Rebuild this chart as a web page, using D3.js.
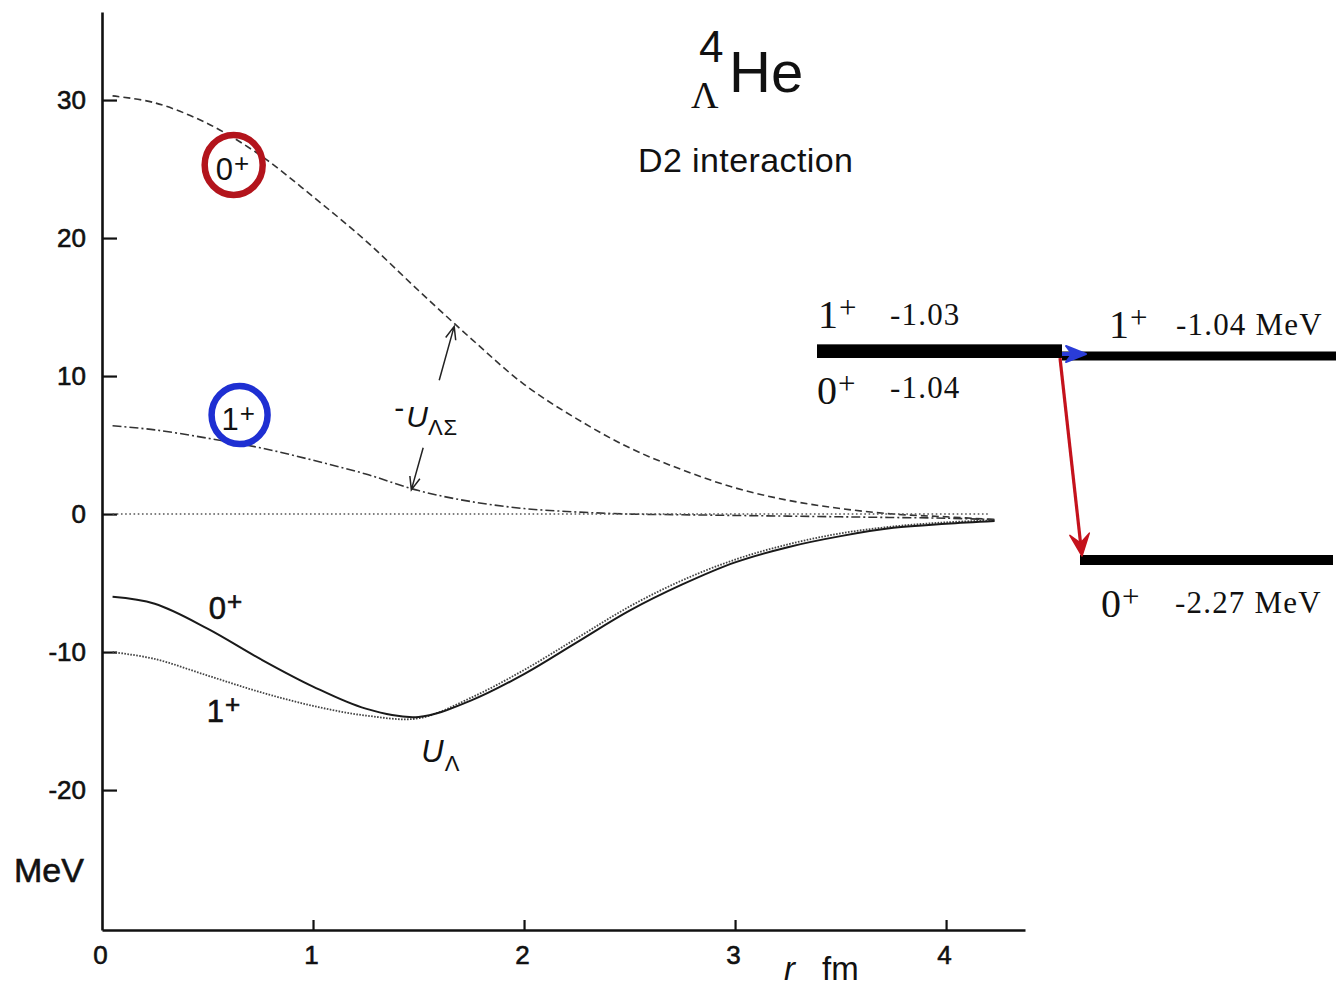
<!DOCTYPE html>
<html>
<head>
<meta charset="utf-8">
<title>4ΛHe D2 interaction potentials</title>
<script src="https://cdn.jsdelivr.net/npm/d3@7"></script>
<style>
  html, body { margin: 0; padding: 0; background: #ffffff; }
  svg { display: block; }
  .sans { font-family: "Liberation Sans", Arial, Helvetica, sans-serif; }
  .serif { font-family: "Liberation Serif", "Times New Roman", serif; }
  .heavy { stroke: #111; stroke-width: 0.6px; paint-order: stroke; }
</style>
</head>
<body>
<svg id="chart" width="1337" height="989"></svg>
<script>
// ---- radial grid (fm) shared by all potential curves ----
const rGrid = [0.05, 0.25, 0.5, 0.75, 1.0, 1.25, 1.5, 1.75, 2.0, 2.25, 2.5, 2.75, 3.0, 3.25, 3.5, 3.75, 4.0, 4.23];

// -U_ΛΣ coupling potential, 0+ state (MeV)
const couplingJ0 = [30.3, 29.8, 28.3, 26.0, 23.0, 19.8, 16.2, 12.7, 9.4, 6.9, 4.8, 3.2, 1.9, 1.0, 0.4, 0.0, -0.2, -0.4];
// -U_ΛΣ coupling potential, 1+ state (MeV)
const couplingJ1 = [6.4, 6.1, 5.5, 4.8, 3.9, 2.9, 1.7, 0.9, 0.4, 0.15, 0.0, -0.05, -0.1, -0.15, -0.2, -0.25, -0.3, -0.4];
// U_Λ diagonal potential, 0+ state (MeV)
const lambdaJ0 = [-6.0, -6.5, -8.3, -10.5, -12.5, -14.1, -14.7, -13.5, -11.6, -9.3, -7.0, -5.1, -3.5, -2.4, -1.6, -1.0, -0.7, -0.5];
// U_Λ diagonal potential, 1+ state (MeV)
const lambdaJ1 = [-10.0, -10.5, -11.7, -12.9, -13.9, -14.6, -14.8, -13.3, -11.3, -9.0, -6.7, -4.8, -3.3, -2.2, -1.4, -0.9, -0.6, -0.45];
// zero reference
const zeroRange = [0.05, 4.2];

// ---- axis ticks ----
const yTicks = [30, 20, 10, 0, -10, -20];
const xTicks = [0, 1, 2, 3, 4];

// ---- level scheme (MeV) ----
const levelsLeft = [{ J: "1", E: -1.03 }, { J: "0", E: -1.04 }];
const levelsRight = [{ J: "1", E: -1.04 }, { J: "0", E: -2.27 }];

const svg = d3.select("#chart");

// scales for the potential plot
const x = d3.scaleLinear().domain([0, 4.374]).range([102, 1025]);
const y = d3.scaleLinear().domain([-30.14, 36.38]).range([930, 12]);

// ---------- axes ----------
const plainInt = d => String(d);
const yAxis = d3.axisLeft(y).tickValues(yTicks).tickSize(-15).tickSizeOuter(0).tickPadding(16)
  .tickFormat(plainInt);
const gy = svg.append("g").attr("transform", `translate(${x(0)},0)`).call(yAxis);
gy.attr("font-size", null).attr("font-family", null);
gy.select(".domain").attr("stroke", "#111").attr("stroke-width", 2.6);
gy.selectAll(".tick line").attr("stroke", "#111").attr("stroke-width", 2.2);
gy.selectAll(".tick text").attr("class", "sans heavy").attr("font-size", 26).attr("fill", "#111");

const xAxis = d3.axisBottom(x).tickValues(xTicks).tickSize(-10).tickSizeOuter(0).tickPadding(16)
  .tickFormat(plainInt);
const gx = svg.append("g").attr("transform", `translate(0,${y.range()[0]})`).call(xAxis);
gx.attr("font-size", null).attr("font-family", null);
gx.select(".domain").attr("stroke", "#111").attr("stroke-width", 2.6);
gx.selectAll(".tick line").attr("stroke", "#111").attr("stroke-width", 2.2);
gx.selectAll(".tick").filter(d => d === 0).select("line").remove();
gx.selectAll(".tick text").attr("class", "sans heavy").attr("font-size", 26).attr("fill", "#111")
  .attr("dx", -2);

// axis titles
svg.append("text").attr("class", "sans heavy").attr("x", 14).attr("y", 882)
  .attr("font-size", 34).attr("fill", "#111").text("MeV");
const xt = svg.append("text").attr("class", "sans").attr("x", 784).attr("y", 980)
  .attr("font-size", 33).attr("fill", "#111");
xt.append("tspan").attr("font-style", "italic").text("r");
xt.append("tspan").attr("dx", 27).text("fm");

// ---------- potential curves ----------
const line = d3.line()
  .x(d => x(d[0]))
  .y(d => y(d[1]))
  .curve(d3.curveCatmullRom.alpha(0.5));

const pairs = vals => rGrid.map((r, i) => [r, vals[i]]);

const curves = [
  { vals: pairs(couplingJ0), dash: "7,4", width: 1.6, color: "#333" },
  { vals: pairs(couplingJ1), dash: "9,3,2,3", width: 1.6, color: "#333" },
  { vals: zeroRange.map(r => [r, 0]), dash: "1.6,2.6", width: 1.4, color: "#555" },
  { vals: pairs(lambdaJ1), dash: "1.6,1.4", width: 1.8, color: "#444" },
  { vals: pairs(lambdaJ0), dash: null, width: 2.0, color: "#1a1a1a" }
];

svg.append("g").selectAll("path").data(curves).join("path")
  .attr("d", d => line(d.vals))
  .attr("fill", "none")
  .attr("stroke", d => d.color)
  .attr("stroke-width", d => d.width)
  .attr("stroke-dasharray", d => d.dash);

// ---------- labels on the curves ----------
const curveLabels = [
  { r: 0.506, v: -7.6, main: "0", sup: "+" },
  { r: 0.496, v: -15.1, main: "1", sup: "+" }
];
curveLabels.forEach(l => {
  const t = svg.append("text").attr("class", "sans heavy")
    .attr("x", x(l.r)).attr("y", y(l.v)).attr("fill", "#111").attr("font-size", 31);
  t.append("tspan").text(l.main);
  t.append("tspan").attr("font-size", 26).attr("dy", -9).attr("dx", 1).text(l.sup);
});

// circled state labels
const circled = [
  { r: 0.624, v: 25.3, main: "0", sup: "+", color: "#b3141c", rx: 29, ry: 30 },
  { r: 0.652, v: 7.17, main: "1", sup: "+", color: "#1e2fd2", rx: 28, ry: 29 }
];
circled.forEach(c => {
  const cx = x(c.r), cy = y(c.v);
  const t = svg.append("text").attr("class", "sans")
    .attr("x", cx - 18).attr("y", cy + 15).attr("fill", "#111").attr("font-size", 31);
  t.append("tspan").text(c.main);
  t.append("tspan").attr("font-size", 26).attr("dy", -8).attr("dx", 1).text(c.sup);
  svg.append("ellipse").attr("cx", cx).attr("cy", cy).attr("rx", c.rx).attr("ry", c.ry)
    .attr("fill", "none").attr("stroke", c.color).attr("stroke-width", 6.5);
});

// -U_ΛΣ annotation
const cl = svg.append("text").attr("class", "sans").attr("x", x(1.385)).attr("y", y(6.3))
  .attr("fill", "#111").attr("font-size", 30);
cl.append("tspan").attr("dy", -9).text("-");
cl.append("tspan").attr("font-style", "italic").attr("dy", 9).attr("dx", 2).text("U");
cl.append("tspan").attr("font-size", 22).attr("dy", 8).attr("letter-spacing", 1).text("ΛΣ");

// U_Λ annotation
const ul = svg.append("text").attr("class", "sans").attr("x", x(1.513)).attr("y", y(-18.0))
  .attr("fill", "#111").attr("font-size", 31);
ul.append("tspan").attr("font-style", "italic").text("U");
ul.append("tspan").attr("font-size", 22).attr("dy", 9).attr("dx", 1).text("Λ");

// arrows pointing from the -U_ΛΣ label to both coupling curves
const couplingArrows = [
  { from: [1.598, 9.7], to: [1.669, 13.6] },
  { from: [1.522, 4.8], to: [1.466, 1.75] }
];
couplingArrows.forEach(a => {
  const x1 = x(a.from[0]), y1 = y(a.from[1]);
  const x2 = x(a.to[0]), y2 = y(a.to[1]);
  const ang = Math.atan2(y2 - y1, x2 - x1);
  const len = 14, spread = 0.38;
  const h1 = [x2 - len * Math.cos(ang - spread), y2 - len * Math.sin(ang - spread)];
  const h2 = [x2 - len * Math.cos(ang + spread), y2 - len * Math.sin(ang + spread)];
  svg.append("path")
    .attr("d", `M${x1},${y1}L${x2},${y2}M${h1[0]},${h1[1]}L${x2},${y2}L${h2[0]},${h2[1]}`)
    .attr("fill", "none").attr("stroke", "#222").attr("stroke-width", 1.5);
});

// ---------- title ----------
const title = svg.append("g");
title.append("text").attr("class", "sans").attr("x", 699).attr("y", 62)
  .attr("font-size", 44).attr("fill", "#111").text("4");
title.append("text").attr("class", "serif").attr("x", 691).attr("y", 108)
  .attr("font-size", 38).attr("fill", "#111").text("Λ");
title.append("text").attr("class", "sans").attr("x", 729).attr("y", 92)
  .attr("font-size", 58).attr("fill", "#111").text("He");
svg.append("text").attr("class", "sans").attr("x", 638).attr("y", 172)
  .attr("font-size", 34).attr("letter-spacing", 0.4).attr("fill", "#111").text("D2 interaction");

// ---------- level scheme ----------
const yLev = d3.scaleLinear().domain([-1.04, -2.27]).range([356, 560]);
const colLeft = [817, 1062];
const colRight = [1062, 1336];
const colLow = [1080, 1333];

function jLabel(xp, yp, J) {
  const t = svg.append("text").attr("class", "serif").attr("x", xp).attr("y", yp)
    .attr("fill", "#111").attr("font-size", 40);
  t.append("tspan").text(J);
  t.append("tspan").attr("font-size", 31).attr("dy", -10).attr("dx", 1).text("+");
}
function eLabel(xp, yp, E, unit) {
  svg.append("text").attr("class", "serif").attr("x", xp).attr("y", yp)
    .attr("fill", "#111").attr("font-size", 31).attr("letter-spacing", 1.2)
    .text(E.toFixed(2) + (unit ? " MeV" : ""));
}

// left: nearly degenerate 1+ / 0+ pair drawn as one thick bar
const leftTop = yLev(levelsLeft[0].E) - 10;
const leftBot = yLev(levelsLeft[1].E) + 2;
svg.append("rect").attr("x", colLeft[0]).attr("y", leftTop)
  .attr("width", colLeft[1] - colLeft[0]).attr("height", leftBot - leftTop).attr("fill", "#000");
jLabel(818, leftTop - 16, levelsLeft[0].J);
eLabel(890, leftTop - 19, levelsLeft[0].E, false);
jLabel(817, leftBot + 46, levelsLeft[1].J);
eLabel(890, leftBot + 40, levelsLeft[1].E, false);

// right: split levels
const upY = yLev(levelsRight[0].E);
const lowY = yLev(levelsRight[1].E);
svg.append("line").attr("x1", colRight[0]).attr("x2", colRight[1]).attr("y1", upY).attr("y2", upY)
  .attr("stroke", "#000").attr("stroke-width", 9);
svg.append("line").attr("x1", colLow[0]).attr("x2", colLow[1]).attr("y1", lowY).attr("y2", lowY)
  .attr("stroke", "#000").attr("stroke-width", 10);
jLabel(1109, upY - 18, levelsRight[0].J);
eLabel(1176, upY - 21, levelsRight[0].E, true);
jLabel(1101, lowY + 57, levelsRight[1].J);
eLabel(1175, lowY + 53, levelsRight[1].E, true);

// blue shift arrow (0+ -> 1+ column)
const bx = colRight[0], by = upY - 2;
svg.append("path")
  .attr("d", `M${bx + 24},${by}L${bx + 4},${by - 8}L${bx + 10},${by}L${bx + 4},${by + 8}Z`)
  .attr("fill", "#2a3cd8").attr("stroke", "#2a3cd8").attr("stroke-width", 2)
  .attr("stroke-linejoin", "round");
svg.append("line").attr("x1", bx).attr("x2", bx + 12).attr("y1", by).attr("y2", by)
  .attr("stroke", "#2a3cd8").attr("stroke-width", 4);

// red transition arrow down to the 0+ ground state
const ax1 = colLeft[1] - 2, ay1 = leftBot;
const ax2 = colLow[0] + 2, ay2 = lowY - 4;
const ang = Math.atan2(ay2 - ay1, ax2 - ax1);
const hl = 24, hs = 0.42;
svg.append("line").attr("x1", ax1).attr("y1", ay1)
  .attr("x2", ax2 - 12 * Math.cos(ang)).attr("y2", ay2 - 12 * Math.sin(ang))
  .attr("stroke", "#c4121c").attr("stroke-width", 3.2);
svg.append("path")
  .attr("d", `M${ax2},${ay2}L${ax2 - hl * Math.cos(ang - hs)},${ay2 - hl * Math.sin(ang - hs)}` +
             `L${ax2 - 13 * Math.cos(ang)},${ay2 - 13 * Math.sin(ang)}` +
             `L${ax2 - hl * Math.cos(ang + hs)},${ay2 - hl * Math.sin(ang + hs)}Z`)
  .attr("fill", "#c4121c").attr("stroke", "#c4121c").attr("stroke-width", 1.5)
  .attr("stroke-linejoin", "round");
</script>
</body>
</html>
